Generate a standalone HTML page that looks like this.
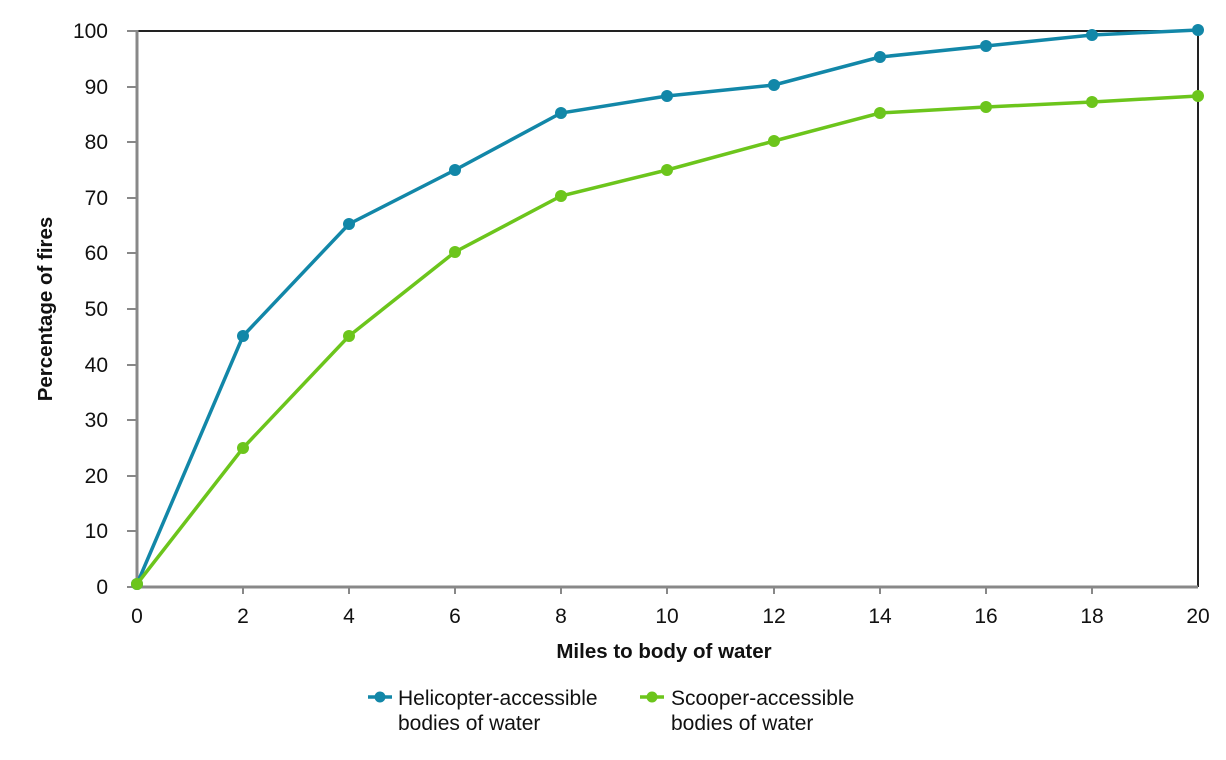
<!DOCTYPE html>
<html><head><meta charset="utf-8"><style>body{margin:0;background:#fff}svg{display:block}text{font-family:"Liberation Sans",Arial,sans-serif;fill:#111}</style></head>
<body>
<svg width="1226" height="760" viewBox="0 0 1226 760" xmlns="http://www.w3.org/2000/svg">
<line x1="137" y1="31" x2="1198" y2="31" stroke="#222" stroke-width="2"/>
<line x1="1198" y1="31" x2="1198" y2="587" stroke="#222" stroke-width="2"/>
<g stroke="#888" stroke-width="2">
<line x1="137" y1="30" x2="137" y2="588" stroke-width="3"/>
<line x1="137" y1="587" x2="1198" y2="587" stroke-width="3"/>
<line x1="127" y1="31" x2="137" y2="31"/><line x1="127" y1="87" x2="137" y2="87"/><line x1="127" y1="142" x2="137" y2="142"/><line x1="127" y1="198" x2="137" y2="198"/><line x1="127" y1="253" x2="137" y2="253"/><line x1="127" y1="309" x2="137" y2="309"/><line x1="127" y1="365" x2="137" y2="365"/><line x1="127" y1="420" x2="137" y2="420"/><line x1="127" y1="476" x2="137" y2="476"/><line x1="127" y1="531" x2="137" y2="531"/><line x1="127" y1="587" x2="137" y2="587"/>
<line x1="243" y1="587" x2="243" y2="594"/><line x1="349" y1="587" x2="349" y2="594"/><line x1="455" y1="587" x2="455" y2="594"/><line x1="561" y1="587" x2="561" y2="594"/><line x1="667" y1="587" x2="667" y2="594"/><line x1="774" y1="587" x2="774" y2="594"/><line x1="880" y1="587" x2="880" y2="594"/><line x1="986" y1="587" x2="986" y2="594"/><line x1="1092" y1="587" x2="1092" y2="594"/>
</g>
<g font-size="21" text-anchor="end">
<text x="108" y="38">100</text><text x="108" y="94">90</text><text x="108" y="149">80</text><text x="108" y="205">70</text><text x="108" y="260">60</text><text x="108" y="316">50</text><text x="108" y="372">40</text><text x="108" y="427">30</text><text x="108" y="483">20</text><text x="108" y="538">10</text><text x="108" y="594">0</text>
</g>
<g font-size="21" text-anchor="middle">
<text x="137" y="623">0</text><text x="243" y="623">2</text><text x="349" y="623">4</text><text x="455" y="623">6</text><text x="561" y="623">8</text><text x="667" y="623">10</text><text x="774" y="623">12</text><text x="880" y="623">14</text><text x="986" y="623">16</text><text x="1092" y="623">18</text><text x="1198" y="623">20</text>
</g>
<text x="664" y="658" font-size="20.5" font-weight="bold" text-anchor="middle">Miles to body of water</text>
<text transform="translate(52,309) rotate(-90)" font-size="20.5" font-weight="bold" text-anchor="middle">Percentage of fires</text>
<g fill="#1287a8" stroke="#1287a8">
<polyline fill="none" stroke-width="3.5" points="137,584 243,336 349,224 455,170 561,113 667,96 774,85 880,57 986,46 1092,35 1198,30"/>
<g stroke="none"><circle cx="137" cy="584" r="6"/><circle cx="243" cy="336" r="6"/><circle cx="349" cy="224" r="6"/><circle cx="455" cy="170" r="6"/><circle cx="561" cy="113" r="6"/><circle cx="667" cy="96" r="6"/><circle cx="774" cy="85" r="6"/><circle cx="880" cy="57" r="6"/><circle cx="986" cy="46" r="6"/><circle cx="1092" cy="35" r="6"/><circle cx="1198" cy="30" r="6"/></g>
</g>
<g fill="#6cc51c" stroke="#6cc51c">
<polyline fill="none" stroke-width="3.5" points="137,584 243,448 349,336 455,252 561,196 667,170 774,141 880,113 986,107 1092,102 1198,96"/>
<g stroke="none"><circle cx="137" cy="584" r="6"/><circle cx="243" cy="448" r="6"/><circle cx="349" cy="336" r="6"/><circle cx="455" cy="252" r="6"/><circle cx="561" cy="196" r="6"/><circle cx="667" cy="170" r="6"/><circle cx="774" cy="141" r="6"/><circle cx="880" cy="113" r="6"/><circle cx="986" cy="107" r="6"/><circle cx="1092" cy="102" r="6"/><circle cx="1198" cy="96" r="6"/></g>
</g>
<line x1="368" y1="697" x2="392" y2="697" stroke="#1287a8" stroke-width="3.5"/><circle cx="380" cy="697" r="5.5" fill="#1287a8"/>
<line x1="640" y1="697" x2="664" y2="697" stroke="#6cc51c" stroke-width="3.5"/><circle cx="652" cy="697" r="5.5" fill="#6cc51c"/>
<g font-size="21">
<text x="398" y="705">Helicopter-accessible</text><text x="398" y="730">bodies of water</text>
<text x="671" y="705">Scooper-accessible</text><text x="671" y="730">bodies of water</text>
</g>
</svg>
</body></html>
